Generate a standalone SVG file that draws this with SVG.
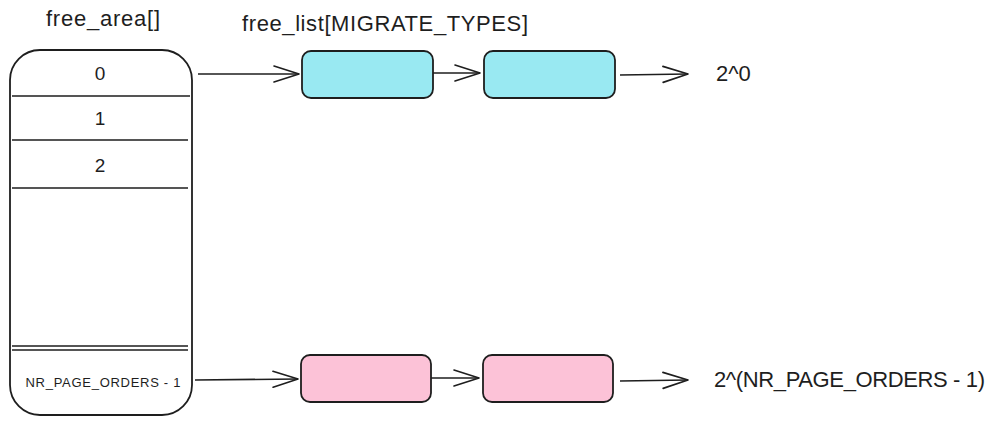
<svg xmlns="http://www.w3.org/2000/svg" width="993" height="425" viewBox="0 0 993 425">
<defs>
<style>
.t{font-family:"Liberation Sans",Arial,sans-serif;fill:#1e1e1e}
.big{font-size:22px}
.mid{font-size:19px}
.sm{font-size:13px}
.ln{stroke:#1e1e1e;stroke-width:1.6;fill:none}
.box{stroke:#1e1e1e;stroke-width:1.8}
.cy{fill:#99e9f2}
.pk{fill:#fcc2d7}
</style>
<marker id="ah" markerUnits="userSpaceOnUse" markerWidth="30" markerHeight="20" refX="26" refY="9" orient="auto" viewBox="0 0 30 20">
<path d="M1,1 L26,9 L1,17" fill="none" stroke="#1e1e1e" stroke-width="1.6" stroke-linecap="round" stroke-linejoin="round"/>
</marker>
</defs>
<rect width="993" height="425" fill="#ffffff"/>
<g id="labels">
<text class="t big" x="103" y="26" text-anchor="middle" textLength="114">free_area[]</text>
<text class="t big" x="242" y="31" textLength="286">free_list[MIGRATE_TYPES]</text>
</g>
<g id="free_area">
<rect class="box" x="10" y="50" width="182" height="365" rx="30" ry="30" fill="#ffffff"/>
<path class="ln" d="M12,96 L190,96 M12,140 L188,140 M12,188 L188,188 M12,346 L188,346 M12,350 L188,350"/>
<text class="t mid" x="100" y="80" text-anchor="middle">0</text>
<text class="t mid" x="100" y="125" text-anchor="middle">1</text>
<text class="t mid" x="100" y="172" text-anchor="middle">2</text>
<text class="t sm" x="103" y="387" text-anchor="middle" textLength="155">NR_PAGE_ORDERS - 1</text>
</g>
<g id="cyan1"><rect class="box cy" x="302" y="51" width="131" height="47" rx="9"/></g>
<g id="cyan2"><rect class="box cy" x="484" y="51" width="131" height="47" rx="9"/></g>
<g id="pink1"><rect class="box pk" x="301" y="355" width="130" height="47" rx="9"/></g>
<g id="pink2"><rect class="box pk" x="483" y="355" width="130" height="47" rx="9"/></g>
<g id="order0"><text class="t big" x="716" y="81">2^0</text></g>
<g id="orderN"><text class="t big" x="714" y="387" textLength="271">2^(NR_PAGE_ORDERS - 1)</text></g>
<g id="connectors">
<path class="ln" d="M198,74 L299,74" marker-end="url(#ah)"/>
<path class="ln" d="M433,73 L480,73" marker-end="url(#ah)"/>
<path class="ln" d="M620,75 L688,74" marker-end="url(#ah)"/>
<path class="ln" d="M195,380 L298,379" marker-end="url(#ah)"/>
<path class="ln" d="M431,378 L479,378" marker-end="url(#ah)"/>
<path class="ln" d="M620,381 L688,380" marker-end="url(#ah)"/>
</g>
</svg>
